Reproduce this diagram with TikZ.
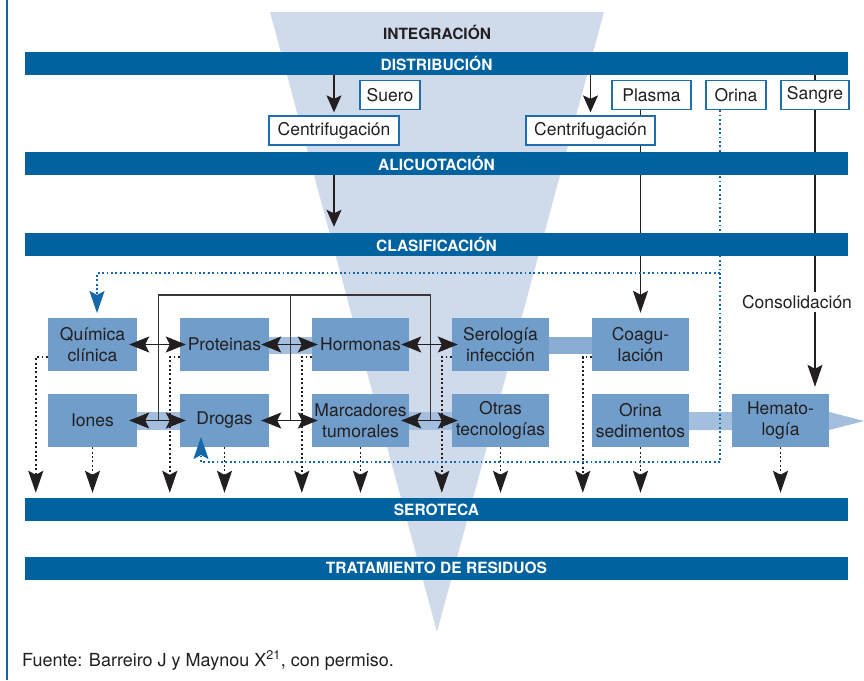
\documentclass[tikz,border=0pt]{standalone}
\usepackage{fontspec}
\setmainfont{TeX Gyre Heros}
\usetikzlibrary{arrows.meta,calc}
\pgfdeclarelayer{bg}
\pgfsetlayers{bg,main}

\definecolor{bandblue}{RGB}{0,99,160}
\definecolor{funnel}{RGB}{207,219,235}
\definecolor{catfill}{RGB}{112,157,201}
\definecolor{linkfill}{RGB}{164,191,221}
\definecolor{linkdark}{RGB}{140,173,211}
\definecolor{ink}{RGB}{35,31,32}
\definecolor{dotblue}{RGB}{20,104,170}
\definecolor{edgeblue}{RGB}{30,110,175}
\definecolor{frameblue}{RGB}{26,99,160}

\begin{document}
\begin{tikzpicture}[x=1pt,y=-1pt,
  band/.style={fill=bandblue, minimum width=823pt, minimum height=23pt, inner sep=0pt,
    text=white, font=\fontsize{15.5}{18}\selectfont\bfseries},
  tag/.style={draw=edgeblue, fill=white, line width=1.3pt, minimum height=29pt, inner sep=0pt,
    text=ink, font=\fontsize{17.5}{20}\selectfont},
  cat/.style={fill=catfill, minimum height=53pt, inner sep=0pt, text=ink, align=center,
    font=\fontsize{17.5}{20.5}\selectfont},
  solidarr/.style={draw=ink, line width=1.3pt, -{Stealth[length=17pt,width=15pt,inset=3.5pt]}},
  longarr/.style={draw=ink, line width=1.3pt, -{Stealth[length=22pt,width=15pt,inset=4pt]}},
  twoway/.style={draw=ink, line width=1.3pt,
    {Stealth[length=20pt,width=16pt,inset=4pt]}-{Stealth[length=20pt,width=16pt,inset=4pt]},
    shorten <=-8pt, shorten >=-6pt},
  bracket/.style={draw=ink!90, line width=1.2pt},
  blackdots/.style={draw=ink, line width=1.9pt, dash pattern=on 1.9pt off 2.5pt,
    -{Stealth[length=22pt,width=15pt,inset=4pt]}},
  bluedots/.style={draw=dotblue, line width=1.9pt, dash pattern=on 1.9pt off 2.5pt},
  bluearr/.style={bluedots, -{Stealth[length=22pt,width=15pt,inset=4pt]}}
]
\useasboundingbox (0,0) rectangle (864,680);

% frame rule on the left
\draw[frameblue, line width=2.5pt] (7,0) -- (7,680);

% process bands
\node[band] (dist)  at (436.5,63.5)  {DISTRIBUCIÓN};
\node[band] (alic)  at (436.5,163.5) {ALICUOTACIÓN};
\node[band] (clas)  at (436.5,244.5) {CLASIFICACIÓN};
\node[band] (serot) at (436.5,509.5) {SEROTECA};
\node[band] (resid) at (436.5,568)   {TRATAMIENTO DE RESIDUOS};

\node[text=ink, font=\fontsize{15.5}{18}\selectfont\bfseries] (integ) at (437,32) {INTEGRACIÓN};

% sample tags
\node[tag, minimum width=60pt]  (suero)  at (390,95)    {Suero};
\node[tag, minimum width=79pt]  (plasma) at (651.5,95)  {Plasma};
\node[tag, minimum width=60pt]  (orina)  at (736,95)    {Orina};
\node[tag, minimum width=68pt]  (sangre) at (815,95)    {Sangre};
\node[tag, minimum width=130pt] (cen1)   at (334,130.5) {Centrifugación};
\node[tag, minimum width=129pt] (cen2)   at (590.5,130.5) {Centrifugación};

\node[fill=white, inner sep=3.5pt, text=ink, font=\fontsize{17.5}{20}\selectfont] (consol) at (797,302) {Consolidación};

% laboratory areas
\node[cat, minimum width=89pt] (quim)  at (92.5,344.5)  {Química\\clínica};
\node[cat, minimum width=89pt] (prot)  at (224.5,344.5) {Proteinas};
\node[cat, minimum width=97pt] (horm)  at (360.5,344.5) {Hormonas};
\node[cat, minimum width=97pt] (sero)  at (500.5,344.5) {Serología\\infección};
\node[cat, minimum width=97pt] (coag)  at (640.5,344.5) {Coagu-\\lación};
\node[cat, minimum width=89pt] (iones) at (92.5,420.5)  {Iones};
\node[cat, minimum width=89pt] (drog)  at (224.5,420.5) {Drogas};
\node[cat, minimum width=97pt] (marc)  at (360.5,420.5) {Marcadores\\tumorales};
\node[cat, minimum width=97pt] (otras) at (500.5,420.5) {Otras\\tecnologías};
\node[cat, minimum width=97pt] (orsed) at (640.5,420.5) {Orina\\sedimentos};
\node[cat, minimum width=97pt] (hema)  at (780.5,420.5) {Hemato-\\logía};

% helper points
\coordinate (bigtip) at (864,421);
\coordinate (ktop) at (0,295);
\coordinate (odrop) at ([xshift=-16pt]orina.south);
\coordinate (ocorner) at (720,462);
\coordinate (obend) at (720,273);
\coordinate (qturn) at (97,273);
\coordinate (qtip) at (97,313);
\coordinate (dturn) at (201,462);
\coordinate (dtip) at (201,437);

\begin{pgfonlayer}{bg}
  % funnel
  \fill[funnel] (270,12) -- (604,12) -- (437,632) -- cycle;
  % sample flow
  \draw[solidarr, shorten >=3pt] (cen1.north |- dist.south) -- (cen1.north);
  \draw[solidarr, shorten >=3pt] (cen2.north |- dist.south) -- (cen2.north);
  \draw[solidarr, shorten >=6pt] (cen1.north |- alic.south) -- (cen1.north |- clas.north);
  \draw[longarr, shorten >=5pt] (coag.north |- plasma.south) -- (coag.north);
  \draw[longarr, shorten >=7pt] (sangre.center |- dist.south) -- (sangre.center |- hema.north);
  % links between areas
  \fill[linkfill] ([yshift=8pt]prot.east) rectangle ([yshift=-9pt]horm.west);
  \fill[linkfill] ([yshift=8.5pt]iones.east) rectangle ([yshift=-9.5pt]drog.west);
  \fill[linkfill] ([yshift=8.5pt]marc.east) rectangle ([yshift=-9.5pt]otras.west);
  \fill[linkdark] ([yshift=8pt]sero.east) rectangle ([yshift=-9pt]coag.west);
  \fill[linkfill] ([yshift=8.5pt]orsed.east) -- ([yshift=8.5pt]hema.east) -- (bigtip)
    -- ([yshift=-9.5pt]hema.east) -- ([yshift=-9.5pt]orsed.east) -- cycle;
  % urine route
  \draw[bluedots] (odrop) -- (ocorner);
\end{pgfonlayer}

% connections between areas
\coordinate (k1) at ($(iones.east)!.5!(drog.west)$);
\coordinate (k2) at ($(drog.east)!.5!(marc.west)$);
\coordinate (k3) at ($(marc.east)!.5!(otras.west)$);
\draw[bracket] (k1) -- (k1 |- ktop) -- (k3 |- ktop) -- (k3);
\draw[bracket] (k2) -- (k2 |- ktop);

\draw[twoway] (quim.east) -- (prot.west);
\draw[twoway] (prot.east) -- (horm.west);
\draw[twoway] (horm.east) -- (sero.west);
\draw[twoway] (iones.east) -- (drog.west);
\draw[twoway] (drog.east) -- (marc.west);
\draw[twoway] (marc.east) -- (otras.west);

% storage drops
\foreach \b/\d in {quim/12, prot/10, horm/10, sero/10, coag/9}{
  \path ([xshift=-\d pt]\b.west) coordinate (tmp);
  \draw[blackdots, shorten >=5pt] ([yshift=-12.5pt]\b.west) -| (tmp |- serot.north);
}
\foreach \b in {iones, drog, marc, otras, orsed, hema}{
  \draw[blackdots, shorten >=5pt] (\b.south) -- (\b.south |- serot.north);
}

% urine route
\draw[bluearr] (ocorner) -- (dturn) -- (dtip);
\draw[bluearr] (obend) -- (qturn) -- (qtip);

% source
\node[anchor=base west, inner sep=0pt, text=ink, font=\fontsize{18}{21}\selectfont] (src) at (22,666)
  {Fuente: Barreiro J y Maynou X\textsuperscript{21}, con permiso.};
\end{tikzpicture}
\end{document}
